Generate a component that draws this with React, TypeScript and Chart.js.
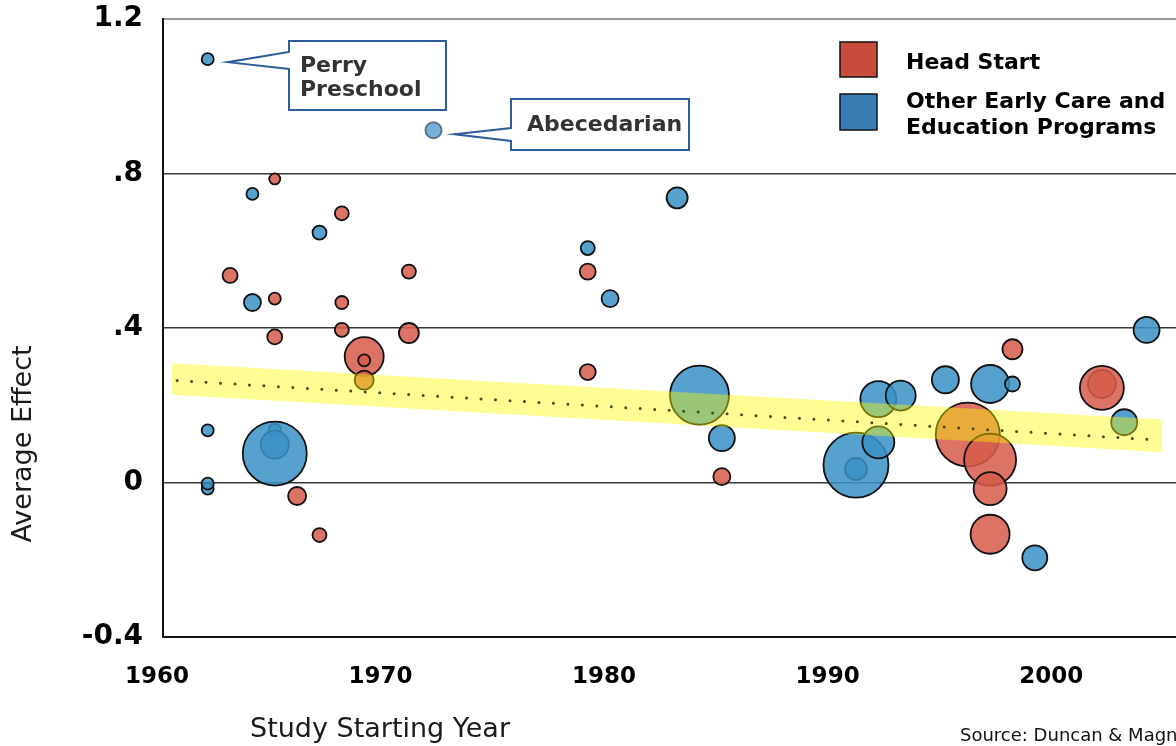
import React, { useEffect, useRef } from "react";
import { Chart, registerables } from "chart.js";

Chart.register(...registerables);

// ---------- data ----------
const xTicks = [1960, 1970, 1980, 1990, 2000];
const yTicks = [-0.4, 0, 0.4, 0.8, 1.2];
const yTickLabels = ["-0.4", "0", ".4", ".8", "1.2"];

// Head Start studies
const headStartYears = [1963, 1965, 1965, 1965, 1966, 1967, 1968, 1968, 1968, 1969, 1969, 1969, 1971, 1971, 1979, 1979, 1985, 1996, 1997, 1997, 1997, 1998, 2002, 2002];
const headStartEffects = [0.536, 0.786, 0.476, 0.377, -0.035, -0.136, 0.697, 0.466, 0.395, 0.326, 0.316, 0.265, 0.546, 0.387, 0.546, 0.286, 0.015, 0.124, 0.059, -0.016, -0.134, 0.345, 0.255, 0.245];
const headStartSizes = [7.5, 5.5, 6, 7.5, 9, 7, 7, 6.5, 7, 19.5, 6, 9.5, 7, 10, 8, 8, 8.5, 32, 26, 16.5, 19.5, 10, 14, 22];

// Other early care and education programs
const otherYears = [1962, 1962, 1962, 1962, 1964, 1964, 1965, 1965, 1965, 1967, 1979, 1980, 1983, 1984, 1985, 1991, 1991, 1992, 1992, 1993, 1995, 1997, 1998, 1999, 2003, 2004];
const otherEffects = [1.096, 0.135, -0.016, -0.003, 0.747, 0.466, 0.135, 0.098, 0.075, 0.647, 0.607, 0.476, 0.737, 0.226, 0.115, 0.035, 0.045, 0.104, 0.216, 0.225, 0.266, 0.255, 0.255, -0.195, 0.156, 0.395];
const otherSizes = [6, 6, 6, 6, 6, 8.5, 6.5, 14, 32, 7, 7, 8.5, 10.5, 29.5, 13, 11, 32.5, 16, 18, 15, 13.5, 19, 7.5, 12.5, 13, 13];

// Abecedarian (highlighted)
const abecedarianYears = [1972.1];
const abecedarianEffects = [0.912];
const abecedarianSizes = [8];

// Trend line and its band
const trendYears = [1960.63, 2004.52];
const trendEffects = [0.264, 0.11];
const bandYears = [1960.4, 2004.7];
const bandUpper = [0.309, 0.163];
const bandLower = [0.227, 0.078];

const FONT = "'DejaVu Sans', Verdana, sans-serif";

const pts = (xs: number[], ys: number[], rs: number[]) => xs.map((x, i) => ({ x, y: ys[i], r: rs[i] }));
const linePts = (xs: number[], ys: number[]) => xs.map((x, i) => ({ x, y: ys[i] }));

function callout(ctx: CanvasRenderingContext2D, x0: number, y0: number, x1: number, y1: number, nTop: number, nBot: number, tipX: number, tipY: number) {
  ctx.beginPath();
  ctx.moveTo(x0, y0);
  ctx.lineTo(x1, y0);
  ctx.lineTo(x1, y1);
  ctx.lineTo(x0, y1);
  ctx.lineTo(x0, nBot);
  ctx.lineTo(tipX, tipY);
  ctx.lineTo(x0, nTop);
  ctx.closePath();
  ctx.fillStyle = "#ffffff";
  ctx.fill();
  ctx.strokeStyle = "#2d5d9b";
  ctx.lineWidth = 2;
  ctx.lineJoin = "miter";
  ctx.stroke();
}

export default function App() {
  const ref = useRef<HTMLCanvasElement>(null);

  useEffect(() => {
    const canvas = ref.current!;

    const overlay = {
      id: "overlay",
      afterDraw(chart: any) {
        const ctx: CanvasRenderingContext2D = chart.ctx;
        const xs = chart.scales.x;
        const ys = chart.scales.y;
        ctx.save();

        // Callouts
        const perryX = xs.getPixelForValue(otherYears[0]);
        const perryY = ys.getPixelForValue(otherEffects[0]);
        callout(ctx, 289, 41, 446, 110, 52, 69, perryX + 20, perryY + 3);
        const abX = xs.getPixelForValue(abecedarianYears[0]);
        const abY = ys.getPixelForValue(abecedarianEffects[0]);
        callout(ctx, 511, 99, 689, 150, 128, 141, abX + 21, abY + 4);

        ctx.fillStyle = "#333333";
        ctx.font = `bold 22px ${FONT}`;
        ctx.textAlign = "left";
        ctx.textBaseline = "middle";
        ctx.fillText("Perry", 300, 66);
        ctx.fillText("Preschool", 300, 90);
        ctx.fillText("Abecedarian", 527, 125);

        // Legend
        ctx.lineWidth = 1.5;
        ctx.strokeStyle = "#111";
        ctx.fillStyle = "#c84b3b";
        ctx.fillRect(840, 42, 37, 35);
        ctx.strokeRect(840, 42, 37, 35);
        ctx.fillStyle = "#3a7db5";
        ctx.fillRect(840, 94, 37, 36);
        ctx.strokeRect(840, 94, 37, 36);
        ctx.fillStyle = "#000";
        ctx.font = `bold 22px ${FONT}`;
        ctx.fillText("Head Start", 906, 63);
        ctx.fillText("Other Early Care and", 906, 102);
        ctx.fillText("Education Programs", 906, 128);

        // Axis titles
        ctx.fillStyle = "#1a1a1a";
        ctx.font = `27px ${FONT}`;
        ctx.textAlign = "center";
        ctx.fillText("Study Starting Year", 380, 730);
        ctx.save();
        ctx.translate(24, 444);
        ctx.rotate(-Math.PI / 2);
        ctx.fillText("Average Effect", 0, 0);
        ctx.restore();

        // Source
        ctx.textAlign = "left";
        ctx.font = `18px ${FONT}`;
        ctx.fillStyle = "#111";
        ctx.fillText("Source: Duncan & Magnuson", 960, 736);
        ctx.restore();
      },
    };

    const chart = new Chart(canvas, {
      type: "bubble",
      data: {
        datasets: [
          {
            type: "line",
            label: "trend",
            data: linePts(trendYears, trendEffects),
            borderColor: "#4a4a1c",
            borderWidth: 3,
            borderDash: [0, 14.5],
            borderCapStyle: "round",
            pointRadius: 0,
            fill: false,
            order: 1,
          } as any,
          {
            type: "line",
            label: "bandUpper",
            data: linePts(bandYears, bandUpper),
            borderColor: "rgba(0,0,0,0)",
            borderWidth: 0,
            pointRadius: 0,
            fill: false,
            order: 2,
          } as any,
          {
            type: "line",
            label: "bandLower",
            data: linePts(bandYears, bandLower),
            borderColor: "rgba(0,0,0,0)",
            borderWidth: 0,
            pointRadius: 0,
            fill: "-1",
            backgroundColor: "rgba(250,250,0,0.42)",
            order: 2,
          } as any,
          {
            label: "Abecedarian",
            data: pts(abecedarianYears, abecedarianEffects, abecedarianSizes),
            backgroundColor: "rgba(112,172,216,0.95)",
            borderColor: "#5f7489",
            borderWidth: 2,
            order: 3,
          },
          {
            label: "Head Start",
            data: pts(headStartYears, headStartEffects, headStartSizes),
            backgroundColor: "rgba(214,92,75,0.86)",
            borderColor: "#111",
            borderWidth: 1.8,
            order: 3,
          },
          {
            label: "Other Early Care and Education Programs",
            data: pts(otherYears, otherEffects, otherSizes),
            backgroundColor: "rgba(58,145,198,0.86)",
            borderColor: "#111",
            borderWidth: 1.8,
            order: 3,
          },
        ],
      },
      options: {
        responsive: false,
        animation: false,
        events: [],
        layout: { autoPadding: false, padding: { left: 0, top: 19, right: 10, bottom: 0 } },
        plugins: {
          legend: { display: false },
          tooltip: { enabled: false },
        },
        scales: {
          x: {
            type: "linear",
            position: "bottom",
            min: 1960,
            max: 2008,
            afterBuildTicks: (s: any) => {
              s.ticks = xTicks.map((v) => ({ value: v }));
            },
            afterFit: (s: any) => {
              s.height = 109;
              s.paddingLeft = 0;
              s.paddingRight = 0;
            },
            grid: { display: false, drawTicks: false },
            border: { display: true, color: "#111", width: 2 },
            ticks: {
              padding: 26,
              labelOffset: -6,
              maxRotation: 0,
              autoSkip: false,
              color: "#000",
              font: { family: FONT, size: 23, weight: "bold" },
              callback: (v: any) => String(v),
            },
          },
          y: {
            type: "linear",
            min: -0.4,
            max: 1.2,
            afterBuildTicks: (s: any) => {
              s.ticks = yTicks.map((v) => ({ value: v }));
            },
            afterFit: (s: any) => {
              s.width = 163;
              s.paddingTop = 0;
              s.paddingBottom = 0;
            },
            grid: {
              drawTicks: false,
              color: (c: any) => {
                const v = c.tick ? c.tick.value : 0;
                if (Math.abs(v - 1.2) < 1e-6) return "#9a9a9a";
                if (Math.abs(v + 0.4) < 1e-6) return "rgba(0,0,0,0)";
                return "#3a3a3a";
              },
              lineWidth: (c: any) => {
                const v = c.tick ? c.tick.value : 0;
                return Math.abs(v - 1.2) < 1e-6 ? 2 : 1.6;
              },
            },
            border: { display: true, color: "#111", width: 2 },
            ticks: {
              padding: 20,
              color: "#000",
              font: { family: FONT, size: 28, weight: "bold" },
              callback: (v: any) => {
                const i = yTicks.findIndex((t) => Math.abs(t - Number(v)) < 1e-6);
                return i >= 0 ? yTickLabels[i] : "";
              },
            },
          },
        },
      },
      plugins: [overlay],
    } as any);

    return () => chart.destroy();
  }, []);

  return (
    <div style={{ position: "fixed", left: 0, top: 0, width: 1176, height: 746, overflow: "hidden", background: "#fff" }}>
      <canvas ref={ref} width={1246} height={746} style={{ display: "block", width: 1246, height: 746 }} />
    </div>
  );
}
